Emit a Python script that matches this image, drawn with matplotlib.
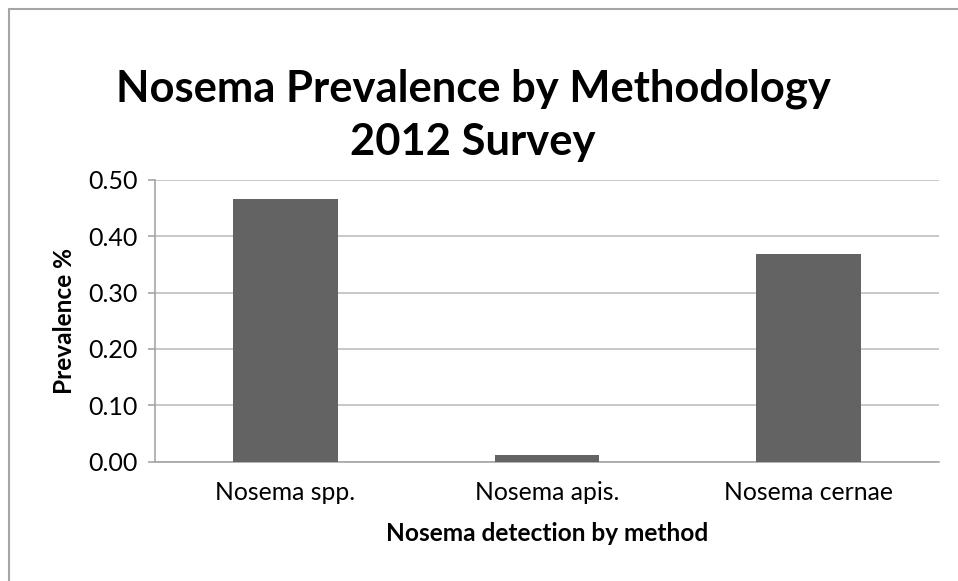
import matplotlib
matplotlib.use("Agg")
import matplotlib.pyplot as plt
from matplotlib.patches import Rectangle

categories = ["Nosema spp.", "Nosema apis.", "Nosema cernae"]
values = [0.466, 0.012, 0.368]
yticks = [0.0, 0.1, 0.2, 0.3, 0.4, 0.5]
ytick_labels = ["0.00", "0.10", "0.20", "0.30", "0.40", "0.50"]
title = "Nosema Prevalence by Methodology\n2012 Survey"
xlabel = "Nosema detection by method"
ylabel = "Prevalence %"

plt.rcParams['font.family'] = ['Lato', 'DejaVu Sans']

W, H = 958, 581
fig = plt.figure(figsize=(W / 100, H / 100), dpi=100)
ax = fig.add_axes([154.7 / W, 1 - 461.5 / H, (939 - 154.7) / W, (461.5 - 180) / H])

x = list(range(len(categories)))
ax.bar(x, values, width=0.4, color="#636363", zorder=3)
ax.set_xlim(-0.5, len(categories) - 0.5)
ax.set_ylim(0, 0.5)
ax.set_yticks(yticks)
ax.set_yticklabels(ytick_labels)
ax.set_xticks(x)
ax.set_xticklabels(categories)
ax.grid(axis="y", color="#bfbfbf", linewidth=1.2, zorder=0)
ax.set_axisbelow(True)
for s in ["top", "right"]:
    ax.spines[s].set_visible(False)
for s in ["left", "bottom"]:
    ax.spines[s].set_color("#a6a6a6")
    ax.spines[s].set_linewidth(1.2)
ax.tick_params(axis="y", length=5, width=1.2, color="#a6a6a6", pad=7, labelsize=18)
ax.tick_params(axis="x", length=0, pad=14, labelsize=17.8)

ax.set_xlabel(xlabel, fontsize=17.6, fontweight="bold", labelpad=13)
ax.set_ylabel(ylabel, fontsize=17.6, fontweight="bold", labelpad=9)

fig.text(473 / W, 1 - 115 / H, title, ha="center", va="center",
         fontsize=31.3, fontweight="bold", linespacing=1.4)

fig.add_artist(Rectangle((8.5 / W, -0.1), 1.2, (H - 9) / H + 0.1, transform=fig.transFigure,
                         fill=False, edgecolor="#a6a6a6", linewidth=1.5))

fig.savefig("out.png", dpi=100, facecolor="white")
